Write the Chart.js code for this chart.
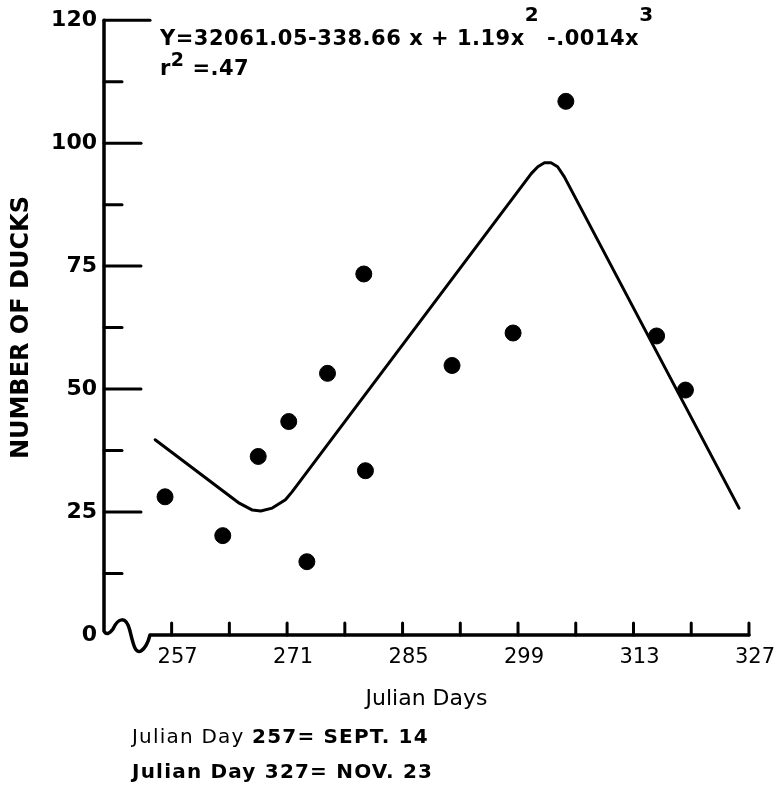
<!DOCTYPE html>
<html>
<head>
<meta charset="utf-8">
<script src="https://cdn.jsdelivr.net/npm/chart.js@4.4.1/dist/chart.umd.min.js"></script>
<style>
  body { margin: 0; background: #fff; }
  #wrap { position: relative; width: 779px; height: 788px; }
  .note { position: absolute; font-family: "DejaVu Sans", sans-serif; color: #000; line-height: 1; white-space: nowrap; }
  #eq { left: 160px; top: 28px; font-size: 21px; font-weight: bold; letter-spacing: 0.5px; }
  #eq .sup { position: relative; top: -24px; font-size: 20px; }
  #r2 { left: 160px; top: 58px; font-size: 21px; font-weight: bold; letter-spacing: 0.5px; }
  #r2 .sup { position: relative; top: -9px; font-size: 19px; }
  .foot { left: 132px; font-size: 20px; letter-spacing: 1.2px; }
  .foot b { font-weight: bold; }
</style>
</head>
<body>
<div id="wrap">
  <canvas id="ducksChart" width="779" height="788"></canvas>
  <div class="note" id="eq">Y=32061.05-338.66 x + 1.19x<span class="sup">2</span> -.0014x<span class="sup">3</span></div>
  <div class="note" id="r2">r<span class="sup">2</span> =.47</div>
  <div class="note foot" style="top:726px">Julian Day <b>257= SEPT. 14</b></div>
  <div class="note foot" style="top:761px"><b>Julian Day 327= NOV. 23</b></div>
</div>

<script>
// ===== DATA =====
const surveyDay = [256.2, 263.2, 267.5, 271.2, 273.4, 275.9, 280.3, 280.5, 291.0, 298.4, 304.8, 315.8, 319.3];
const duckCount = [28.1, 20.2, 36.3, 43.4, 14.9, 53.2, 73.4, 33.4, 54.8, 61.4, 108.5, 60.8, 49.8];

// fitted curve
const fitDay = [255.0, 265.2, 266.8, 267.8, 269.2, 270.8, 271.6, 300.6, 301.4, 302.2, 303.0, 303.8, 304.6, 325.8];
const fitCount = [39.7, 26.8, 25.4, 25.2, 25.8, 27.5, 29.1, 93.8, 95.2, 96.0, 96.0, 95.2, 93.2, 25.8];

// ticks
const xTickDays = [257, 264, 271, 278, 285, 292, 299, 306, 313, 320, 327];
const xLabelDays = [257, 271, 285, 299, 313, 327];
const yTickValues = [0, 25, 50, 75, 100, 125];
const yTickLabels = ["0", "25", "50", "75", "100", "120"];
const yMinorValues = [12.5, 37.5, 62.5, 87.5, 112.5];

const FONT = "'DejaVu Sans', sans-serif";

// ===== AXES: lines, inward ticks, axis break =====
const axisDecor = {
  id: "axisDecor",
  beforeDatasetsDraw(chart) {
    const { ctx, chartArea: a, scales: { x, y } } = chart;
    const L = a.left, B = a.bottom;
    ctx.save();
    ctx.strokeStyle = "#000";
    ctx.lineCap = "round";
    ctx.lineJoin = "round";

    // y axis + break squiggle + x axis
    ctx.lineWidth = 3.5;
    ctx.beginPath();
    ctx.moveTo(L, a.top);
    ctx.lineTo(L, B - 4);
    ctx.quadraticCurveTo(L + 3, B + 2, L + 9, B - 6);
    ctx.bezierCurveTo(L + 14, B - 17, L + 22, B - 20, L + 26, B - 4);
    ctx.bezierCurveTo(L + 29, B + 8, L + 31, B + 19, L + 37, B + 16);
    ctx.quadraticCurveTo(L + 43, B + 12, L + 46, B);
    ctx.lineTo(a.right, B);
    ctx.stroke();

    ctx.lineWidth = 3;
    const seg = (x1, y1, x2, y2) => {
      ctx.beginPath(); ctx.moveTo(x1, y1); ctx.lineTo(x2, y2); ctx.stroke();
    };
    yTickValues.forEach((v, i) => {
      if (v === 0) return;
      const py = y.getPixelForValue(v);
      seg(L, py, L + (i === yTickValues.length - 1 ? 46 : 37), py);
    });
    yMinorValues.forEach(v => {
      const py = y.getPixelForValue(v);
      seg(L, py, L + 18, py);
    });
    xTickDays.forEach(d => {
      const px = x.getPixelForValue(d);
      seg(px, B, px, B - 12);
    });
    ctx.restore();
  }
};

// ===== CHART =====
new Chart(document.getElementById("ducksChart"), {
  type: "scatter",
  data: {
    datasets: [
      {
        type: "line",
        label: "Fitted curve",
        data: fitDay.map((d, i) => ({ x: d, y: fitCount[i] })),
        borderColor: "#000",
        borderWidth: 3,
        pointRadius: 0,
        tension: 0,
        fill: false,
        borderJoinStyle: "round",
        borderCapStyle: "round"
      },
      {
        label: "Number of ducks",
        data: surveyDay.map((d, i) => ({ x: d, y: duckCount[i] })),
        backgroundColor: "#000",
        borderColor: "#000",
        pointRadius: 8,
        pointHoverRadius: 8,
        clip: false
      }
    ]
  },
  options: {
    responsive: false,
    animation: false,
    events: [],
    layout: { padding: { top: 20, right: 27, bottom: 76, left: 0 } },
    plugins: { legend: { display: false }, tooltip: { enabled: false } },
    scales: {
      x: {
        type: "linear",
        min: 248.8,
        max: 327,
        grid: { display: false, drawTicks: false },
        border: { display: false },
        afterBuildTicks: s => { s.ticks = xTickDays.map(v => ({ value: v })); },
        afterFit: s => { s.height = 77; },
        ticks: {
          autoSkip: false,
          maxRotation: 0,
          padding: 10,
          labelOffset: 6,
          color: "#000",
          font: { family: FONT, size: 21 },
          callback: v => xLabelDays.includes(v) ? String(v) : ""
        },
        title: {
          display: true,
          text: "Julian Days",
          color: "#000",
          font: { family: FONT, size: 22 },
          padding: { top: 0, bottom: 0 }
        }
      },
      y: {
        min: 0,
        max: 125,
        grid: { display: false, drawTicks: false },
        border: { display: false },
        afterBuildTicks: s => { s.ticks = yTickValues.map(v => ({ value: v })); },
        afterFit: s => { s.width = 104; },
        ticks: {
          padding: 7,
          color: "#000",
          font: { family: FONT, size: 22, weight: "bold" },
          callback: (v, i) => yTickLabels[i]
        },
        title: {
          display: true,
          text: "NUMBER OF DUCKS",
          color: "#000",
          font: { family: FONT, size: 24, weight: "bold" },
          padding: { top: 7, bottom: 0 }
        }
      }
    }
  },
  plugins: [axisDecor]
});
</script>
</body>
</html>
